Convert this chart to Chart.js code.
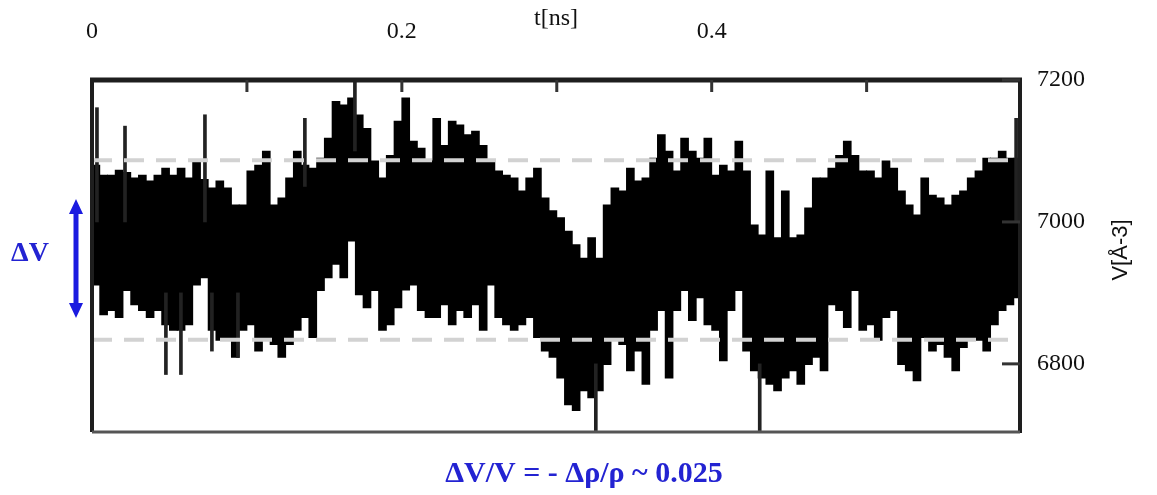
<!DOCTYPE html>
<html>
<head>
<meta charset="utf-8">
<script src="https://cdn.jsdelivr.net/npm/chart.js@4.4.1/dist/chart.umd.min.js"></script>
<style>
  html, body { margin: 0; padding: 0; background: #fff; }
  #volGraph { filter: blur(0.5px); }
</style>
</head>
<body>
<canvas id="volGraph" width="1157" height="495"></canvas>
<script>
// time bins (ns): first centre and width
const binStart = 0.0025;
const binStep = 0.005;

// upper edge of the V trace in each bin [Å^3]
const vHigh = [
  7080, 7066, 7066, 7073, 7070, 7062, 7066, 7058, 7066, 7076,
  7066, 7076, 7062, 7086, 7060, 7048, 7058, 7048, 7024, 7024,
  7072, 7080, 7100, 7024, 7034, 7062, 7100, 7080, 7076, 7090,
  7118, 7170, 7165, 7175, 7151, 7132, 7086, 7062, 7094, 7142,
  7175, 7114, 7104, 7086, 7146, 7108, 7142, 7137, 7123, 7128,
  7108, 7086, 7072, 7066, 7062, 7044, 7062, 7076, 7034, 7016,
  7006, 6987, 6968, 6949, 6978, 6949, 7024, 7048, 7044, 7076,
  7058, 7062, 7090, 7123, 7100, 7072, 7118, 7100, 7090, 7118,
  7066, 7080, 7072, 7114, 7072, 6996, 6982, 7072, 6978, 7044,
  6978, 6982, 7020, 7062, 7062, 7076, 7094, 7114, 7094, 7072,
  7072, 7062, 7086, 7076, 7044, 7024, 7010, 7062, 7038, 7034,
  7024, 7038, 7044, 7062, 7072, 7090, 7090, 7100, 7090, 7090
];

// lower edge of the V trace in each bin [Å^3]
const vLow = [
  6911, 6869, 6875, 6865, 6903, 6883, 6875, 6865, 6875, 6855,
  6847, 6847, 6855, 6911, 6921, 6847, 6833, 6837, 6809, 6847,
  6855, 6818, 6837, 6827, 6809, 6827, 6847, 6865, 6837, 6903,
  6921, 6940, 6921, 6973, 6897, 6879, 6903, 6847, 6855, 6879,
  6904, 6911, 6875, 6865, 6865, 6883, 6855, 6875, 6865, 6883,
  6847, 6911, 6865, 6855, 6847, 6855, 6865, 6837, 6818, 6809,
  6780, 6742, 6734, 6762, 6752, 6762, 6799, 6833, 6827, 6790,
  6818, 6771, 6847, 6875, 6780, 6875, 6903, 6861, 6893, 6855,
  6847, 6804, 6875, 6903, 6818, 6790, 6780, 6771, 6762, 6780,
  6790, 6771, 6799, 6809, 6790, 6883, 6875, 6851, 6903, 6847,
  6855, 6833, 6865, 6875, 6799, 6790, 6776, 6837, 6818, 6827,
  6809, 6790, 6823, 6837, 6833, 6818, 6855, 6875, 6883, 6893
];

// single narrow spikes of the trace
const spikeT    = [0.0032, 0.0213, 0.0477, 0.0574, 0.0729, 0.0774, 0.0942, 0.1374, 0.1697, 0.3252, 0.4310, 0.5965];
const spikeLow  = [7000, 7000, 6785, 6785, 7000, 6818, 6809, 7050, 7100, 6706, 6706, 7000];
const spikeHigh = [7161, 7135, 6900, 6900, 7151, 6900, 6900, 7146, 7200, 6800, 6800, 7146];

// dashed reference levels (ΔV band)
const refHigh = 7087;
const refLow = 6834;

const xMin = 0, xMax = 0.599;
const yMin = 6704, yMax = 7200;
const xLabelTicks = [0, 0.2, 0.4];
const xMinorTicks = [0.1, 0.2, 0.3, 0.4, 0.5];
const yTicks = [6800, 7000, 7200];

const traceBins = vHigh.map((h, i) => ({ x: binStart + i * binStep, y: [vLow[i], h] }));
const spikes = spikeT.map((t, i) => ({ x: t, y: [spikeLow[i], spikeHigh[i]] }));

function line(ctx, x1, y1, x2, y2) {
  ctx.beginPath();
  ctx.moveTo(x1, y1);
  ctx.lineTo(x2, y2);
  ctx.stroke();
}

const framePlugin = {
  id: 'frame',
  afterDatasetsDraw(chart) {
    const { ctx, chartArea: a, scales } = chart;
    ctx.save();
    ctx.strokeStyle = '#1e1e1e';
    ctx.lineWidth = 5;
    line(ctx, a.left - 2, a.top, a.right + 2, a.top);
    ctx.lineWidth = 4;
    line(ctx, a.left, a.top, a.left, a.bottom);
    line(ctx, a.right, a.top, a.right, a.bottom + 1);
    ctx.strokeStyle = '#555';
    ctx.lineWidth = 3;
    line(ctx, a.left, a.bottom, a.right, a.bottom);
    // inward tick marks
    ctx.strokeStyle = '#333';
    ctx.lineWidth = 3;
    xMinorTicks.forEach(v => {
      const px = scales.x.getPixelForValue(v);
      line(ctx, px, a.top, px, a.top + 12);
    });
    yTicks.forEach(v => {
      const py = scales.y.getPixelForValue(v);
      line(ctx, a.right - 18, py, a.right, py);
    });
    ctx.restore();
  },
  afterDraw(chart) {
    const ctx = chart.ctx;
    ctx.save();
    // y axis title, reading upwards
    ctx.translate(1121, 250);
    ctx.rotate(-Math.PI / 2);
    ctx.fillStyle = '#111';
    ctx.font = '22px "Liberation Sans"';
    ctx.textAlign = 'center';
    ctx.textBaseline = 'middle';
    ctx.fillText('V[Å-3]', 0, 0);
    ctx.restore();

    // blue double arrow
    ctx.save();
    const blue = '#1b1be0';
    ctx.strokeStyle = blue;
    ctx.fillStyle = blue;
    ctx.lineWidth = 5;
    line(ctx, 76, 210, 76, 307);
    ctx.beginPath();
    ctx.moveTo(76, 199); ctx.lineTo(69, 214); ctx.lineTo(83, 214); ctx.closePath();
    ctx.fill();
    ctx.beginPath();
    ctx.moveTo(76, 318); ctx.lineTo(69, 303); ctx.lineTo(83, 303); ctx.closePath();
    ctx.fill();

    ctx.fillStyle = '#2323d2';
    ctx.textAlign = 'center';
    ctx.textBaseline = 'middle';
    ctx.font = 'bold 28px "Liberation Serif"';
    ctx.fillText('ΔV', 30, 254);
    ctx.font = 'bold 30px "Liberation Serif"';
    ctx.fillText('ΔV/V = - Δρ/ρ ~ 0.025', 584, 474);
    ctx.restore();
  }
};

const tickFont = { family: 'Liberation Serif', size: 24 };

new Chart(document.getElementById('volGraph').getContext('2d'), {
  type: 'bar',
  data: {
    datasets: [
      {
        type: 'line',
        data: [{ x: xMin, y: refHigh }, { x: xMax, y: refHigh }],
        borderColor: '#d2d2d2',
        borderWidth: 4,
        borderDash: [20, 12],
        pointRadius: 0,
        order: 0
      },
      {
        type: 'line',
        data: [{ x: xMin, y: refLow }, { x: xMax, y: refLow }],
        borderColor: '#d2d2d2',
        borderWidth: 4,
        borderDash: [20, 12],
        pointRadius: 0,
        order: 0
      },
      {
        data: traceBins,
        backgroundColor: '#000',
        borderWidth: 0,
        barThickness: 8,
        grouped: false,
        order: 2
      },
      {
        data: spikes,
        backgroundColor: '#222',
        borderWidth: 0,
        barThickness: 3,
        grouped: false,
        order: 1
      }
    ]
  },
  options: {
    responsive: false,
    animation: false,
    events: [],
    layout: { padding: { left: 92, top: 0, right: 0, bottom: 63 } },
    plugins: { legend: { display: false }, tooltip: { enabled: false } },
    scales: {
      x: {
        type: 'linear',
        position: 'top',
        min: xMin,
        max: xMax,
        offset: false,
        grid: { display: false, drawTicks: false },
        border: { display: false },
        afterBuildTicks: s => { s.ticks = xLabelTicks.map(v => ({ value: v })); },
        afterFit: s => { s.height = 80; },
        ticks: { font: tickFont, color: '#111', padding: 34, maxRotation: 0, callback: v => String(v) },
        title: { display: true, text: 't[ns]', font: tickFont, color: '#111', padding: { top: 4, bottom: 0 } }
      },
      y: {
        type: 'linear',
        position: 'right',
        min: yMin,
        max: yMax,
        grid: { display: false, drawTicks: false },
        border: { display: false },
        afterBuildTicks: s => { s.ticks = yTicks.map(v => ({ value: v })); },
        afterFit: s => { s.width = 137; },
        ticks: { font: tickFont, color: '#111', padding: 17, callback: v => String(v) }
      }
    }
  },
  plugins: [framePlugin]
});
</script>
</body>
</html>
